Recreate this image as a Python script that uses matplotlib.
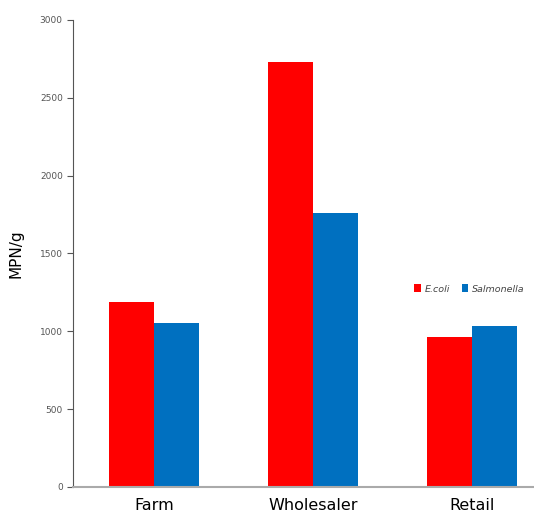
import numpy as np
import matplotlib.pyplot as plt

sites = ["Farm", "Wholesaler", "Retail"]
ecoli = [1190, 2730, 965]
salmonella = [1050, 1760, 1035]
yticks = [0, 500, 1000, 1500, 2000, 2500, 3000]

fig = plt.figure(figsize=(5.34, 5.12), dpi=100)
ax = fig.add_axes([0.137, 0.049, 0.863, 0.912])

x = np.arange(len(sites))
w = 0.285
ax.bar(x - w/2, ecoli, w, color="#ff0000", label="E.coli")
ax.bar(x + w/2, salmonella, w, color="#0070c0", label="Salmonella")

ax.set_xlim(-0.51, 2.39)
ax.set_ylim(0, 3000)
ax.set_yticks(yticks)
ax.set_yticklabels([str(v) for v in yticks], fontsize=6.5, color="#555555")
ax.set_xticks(x)
ax.set_xticklabels(sites, fontsize=11.5)
ax.tick_params(axis="x", length=0, pad=8)
ax.tick_params(axis="y", length=4, color="#555555", width=0.8)

ax.spines["top"].set_visible(False)
ax.spines["right"].set_visible(False)
ax.spines["left"].set_color("#555555")
ax.spines["bottom"].set_color("#aaaaaa")
ax.spines["bottom"].set_linewidth(1.5)

ax.set_ylabel("MPN/g", fontsize=11, labelpad=12)

leg = ax.legend(loc="center", bbox_to_anchor=(0.86, 0.424), ncol=2, frameon=False,
                prop={"style": "italic", "size": 6.8}, handlelength=0.7, handleheight=0.9,
                columnspacing=1.2, handletextpad=0.4)
for t in leg.get_texts():
    t.set_color("#444444")

fig.savefig("out.png", dpi=100)
